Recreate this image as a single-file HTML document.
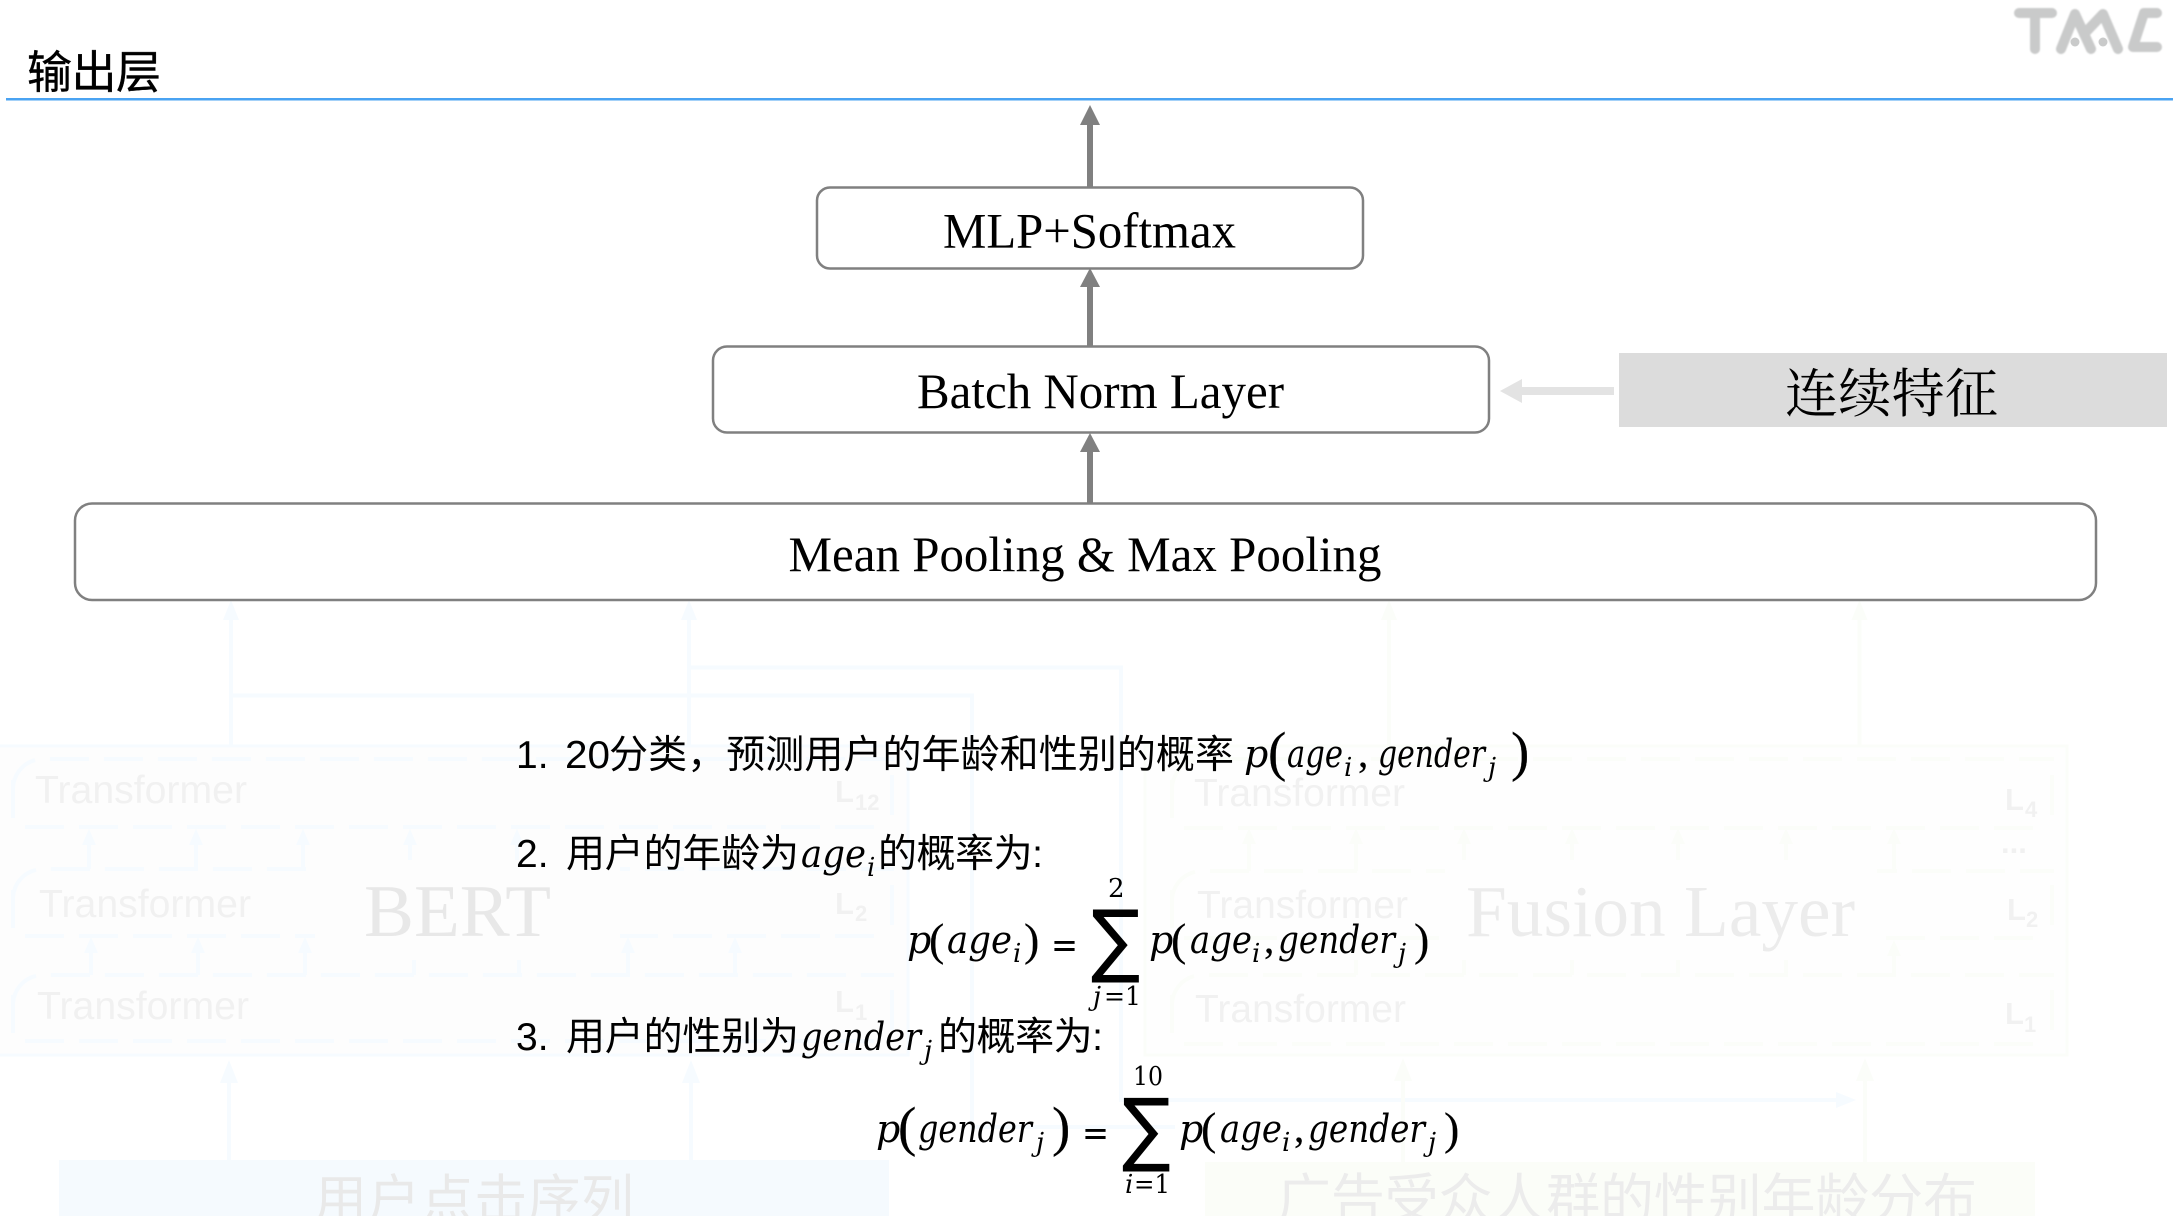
<!DOCTYPE html>
<html lang="zh"><head><meta charset="utf-8"><title>输出层</title>
<style>
html,body{margin:0;padding:0;background:#fff}
svg{display:block}
.s{font-family:"Liberation Serif",serif}
.a{font-family:"Liberation Sans",sans-serif}
.c{font-family:"Liberation Sans","Noto Sans CJK SC",sans-serif}
.m{font-family:"DejaVu Serif",serif;font-style:italic;font-size:38px;fill:#000}
.r{font-family:"Liberation Serif",serif;font-size:41px;fill:#000;stroke:#000;stroke-width:.2}
.e{font-family:"DejaVu Sans",sans-serif;font-size:36px;fill:#000}
.u{font-family:"DejaVu Serif",serif;font-style:italic;font-size:26px;fill:#000}
.n{font-family:"DejaVu Serif",serif;font-size:26px;fill:#000}
.t{font-family:"Liberation Sans",sans-serif;font-size:39px;fill:#f1f1f1}
.l{font-family:"Liberation Sans",sans-serif;font-size:31px;font-weight:bold;fill:#f1f1f1}
.ls{font-family:"Liberation Sans",sans-serif;font-size:22px;font-weight:bold;fill:#f1f1f1}
.d{fill:none;stroke-width:4;stroke-dasharray:39 15}
.b .d,.b .sl{stroke:#f6fbff}
.g .d,.g .sl{stroke:#fbfdf9}
.sl{fill:none;stroke-width:4}
.b .h{fill:#f6fbff}
.g .h{fill:#fbfdf9}
.x{font-family:"Liberation Sans","Noto Sans CJK SC",sans-serif;font-size:39px;fill:#000}
.big{font-family:"Liberation Serif",serif;font-size:50px;fill:#000}
</style></head><body>
<svg xmlns="http://www.w3.org/2000/svg" width="2182" height="1216" viewBox="0 0 2182 1216">
<rect width="2182" height="1216" fill="#fff"/>

<!-- faded BERT side -->
<g class="b">
<rect x="-4" y="746" width="912" height="309" fill="#fdfdfd" stroke="#f6fbff" stroke-width="3"/>
<path class="sl" d="M231 612V745M689 612V745M231 695.500H972V1127H1175M689 667.500H1121V1100H1840"/>
<path class="h" d="M231 600l8 20h-16zM689 600l8 20h-16zM1856 1100l-20 8v-16z"/>
<path class="sl" d="M229 1075V1160M691 1075V1160"/>
<path class="h" d="M229 1060l9 23h-18zM691 1060l9 23h-18z"/>

<path class="d" d="M13 789A30 30 0 0 1 43 759H894"/>
<path class="d" d="M25 827H880"/>
<path class="d" d="M13 898A30 30 0 0 1 43 869H894"/>
<path class="d" d="M25 936H880"/>
<path class="d" d="M13 1004A30 30 0 0 1 43 975H894"/>
<path class="d" d="M25 1041H880"/>
<path class="sl" d="M13 780V818M13 890V928M13 995V1033M892 775V815M892 885V925M892 990V1030"/>
<rect x="315" y="860" width="305" height="97" fill="#fdfdfd"/>
<path class="sl" d="M89 845V869M196 845V869M303 845V869M410 845V860M517 845V860M91 952V975M198 952V975M305 952V975M414 960V975M519 960V975M628 952V975M735 952V975"/>
<path class="h" d="M89 829l7 16h-14zM196 829l7 16h-14zM303 829l7 16h-14zM410 829l7 16h-14zM517 829l7 16h-14zM91 937l7 16h-14zM198 937l7 16h-14zM305 937l7 16h-14zM628 937l7 16h-14zM735 937l7 16h-14z"/>
</g>
<text class="t" x="35" y="803" textLength="212" lengthAdjust="spacingAndGlyphs">Transformer</text>
<text class="t" x="39" y="917" textLength="212" lengthAdjust="spacingAndGlyphs">Transformer</text>
<text class="t" x="37" y="1019" textLength="212" lengthAdjust="spacingAndGlyphs">Transformer</text>
<text class="s" x="364" y="936" font-size="74" fill="#e8e8e8" textLength="187" lengthAdjust="spacingAndGlyphs">BERT</text>
<text class="l" x="835" y="802">L</text><text class="ls" x="855" y="810">12</text>
<text class="l" x="835" y="914">L</text><text class="ls" x="855" y="921">2</text>
<text class="l" x="835" y="1012">L</text><text class="ls" x="855" y="1020">1</text>
<rect x="59" y="1160" width="830" height="56" fill="#f5fafe"/>
<text class="c" x="314" y="1218" font-size="53" fill="#e9e9e9" textLength="320">用户点击序列</text>

<!-- faded Fusion side -->
<g class="g">
<rect x="1145" y="746" width="922" height="309" fill="#fefefe" stroke="#fbfdf9" stroke-width="3"/>
<path class="sl" d="M1389 612V745M1859.500 612V745M1403 1075V1162M1865 1075V1162"/>
<path class="h" d="M1389 600l8 20h-16zM1859.500 600l8 20h-16zM1403 1058l9 23h-18zM1865 1058l9 23h-18z"/>
<path class="d" d="M1172 789A30 30 0 0 1 1202 759H2054"/>
<path class="d" d="M1184 828H2040"/>
<path class="d" d="M1172 900A30 30 0 0 1 1202 871H2054"/>
<path class="d" d="M1184 938H2040"/>
<path class="d" d="M1172 1005A30 30 0 0 1 1202 975H2054"/>
<path class="d" d="M1184 1044H2040"/>
<path class="sl" d="M1172 780V818M1172 890V928M1172 995V1033M2052 775V815M2052 885V925M2052 990V1030"/>
<rect x="1445" y="860" width="432" height="100" fill="#fefefe"/>
<path class="sl" d="M1249 842V871M1356 842V871M1464 842V860M1572 842V860M1678 842V860M1786 842V860M1894 842V871M1356 960V975M1464 960V975M1572 960V975M1678 960V975M1786 960V975M1894 955V975"/>
<path class="h" d="M1249 828l7 16h-14zM1356 828l7 16h-14zM1464 828l7 16h-14zM1572 828l7 16h-14zM1678 828l7 16h-14zM1786 828l7 16h-14zM1894 828l7 16h-14zM1894 940l7 16h-14z"/>
</g>
<text class="t" x="1194" y="806" textLength="211" lengthAdjust="spacingAndGlyphs">Transformer</text>
<text class="t" x="1197" y="918" textLength="211" lengthAdjust="spacingAndGlyphs">Transformer</text>
<text class="t" x="1195" y="1022" textLength="211" lengthAdjust="spacingAndGlyphs">Transformer</text>
<text class="s" x="1466" y="936" font-size="73" fill="#ececec" textLength="389" lengthAdjust="spacingAndGlyphs">Fusion Layer</text>
<text class="l" x="2005" y="810">L</text><text class="ls" x="2025" y="817">4</text>
<text class="l" x="2007" y="920">L</text><text class="ls" x="2026" y="927">2</text>
<text class="l" x="2005" y="1024">L</text><text class="ls" x="2024" y="1032">1</text>
<text class="l" x="2001" y="853">...</text>
<rect x="1205" y="1162" width="830" height="54" fill="#fbfdf8"/>
<text class="c" x="1277" y="1218" font-size="54" fill="#ececec" textLength="700">广告受众人群的性别年龄分布</text>

<!-- header -->
<text class="c" x="27" y="88" font-size="45" fill="#000" stroke="#000" stroke-width=".4" textLength="134">输出层</text>
<rect x="6" y="98" width="2167" height="2.500" fill="#4aa3f2"/>
<g fill="none" stroke="#c9caca" stroke-width="10" stroke-linecap="round" stroke-linejoin="round" style="filter:blur(.7px)">
<path d="M2019 13H2052M2035 13V49"/>
<path d="M2061 49L2075 14L2091 49"/>
<path d="M2084 34L2103 14L2118 49"/>
<path d="M2157 13H2144L2133 47H2157"/>
</g>
<circle cx="2075" cy="42" r="4.500" fill="#c9caca"/><circle cx="2103" cy="42" r="4.500" fill="#c9caca"/>

<!-- arrows -->
<g fill="#808080">
<rect x="1087" y="118" width="6" height="70"/><path d="M1090 105l10 20h-20z"/>
<rect x="1087" y="283" width="6" height="64"/><path d="M1090 268l10 19h-20z"/>
<rect x="1087" y="448" width="6" height="56"/><path d="M1090 433l10 19h-20z"/>
</g>
<rect x="1520" y="387" width="94" height="8" fill="#e3e3e3"/>
<path d="M1500 391l22 -12v24z" fill="#e3e3e3"/>

<!-- boxes -->
<g fill="#fff" stroke="#808080" stroke-width="2.500">
<rect x="817" y="187.500" width="546" height="81" rx="13"/>
<rect x="713" y="346.500" width="776" height="86" rx="14"/>
<rect x="75" y="503.500" width="2021" height="96.500" rx="17"/>
</g>
<text class="big" x="943" y="247.500" textLength="293" lengthAdjust="spacingAndGlyphs">MLP+Softmax</text>
<text class="big" x="917" y="408" textLength="367" lengthAdjust="spacingAndGlyphs">Batch Norm Layer</text>
<text class="big" x="788.500" y="571" textLength="593" lengthAdjust="spacingAndGlyphs">Mean Pooling &amp; Max Pooling</text>
<rect x="1619" y="353" width="548" height="74" fill="#dcdcdc"/>
<text x="1785" y="412" font-family="'Liberation Serif','Noto Serif CJK SC',serif" font-size="53" fill="#000" textLength="213">连续特征</text>

<!-- line 1 -->
<text class="x" x="516" y="768">1.</text>
<text class="x" x="565" y="768" textLength="45" lengthAdjust="spacingAndGlyphs">20</text>
<text class="x" x="609" y="768" textLength="625">分类，预测用户的年龄和性别的概率</text>
<text class="m" x="1244" y="767">p</text>
<text class="r" x="1268" y="770" style="font-size:55px">(</text>
<text class="m" x="1287" y="767" textLength="56" lengthAdjust="spacingAndGlyphs">age</text>
<text class="u" x="1344" y="776">i</text>
<text class="r" x="1358" y="767">,</text>
<text class="m" x="1378" y="767" textLength="107" lengthAdjust="spacingAndGlyphs">gender</text>
<text class="u" x="1488" y="776">j</text>
<text class="r" x="1511" y="770" style="font-size:55px">)</text>

<!-- line 2 -->
<text class="x" x="516" y="867">2.</text>
<text class="x" x="566" y="867" textLength="233">用户的年龄为</text>
<text class="m" x="801" y="867" textLength="65" lengthAdjust="spacingAndGlyphs">age</text>
<text class="u" x="867" y="876">i</text>
<text class="x" x="878" y="867" textLength="165">的概率为:</text>

<!-- formula 1 -->
<text class="m" x="907" y="953">p</text>
<text class="r" x="929" y="955" style="font-size:46px">(</text>
<text class="m" x="947" y="953" textLength="65" lengthAdjust="spacingAndGlyphs">age</text>
<text class="u" x="1013" y="962">i</text>
<text class="r" x="1024" y="955" style="font-size:46px">)</text>
<text class="e" x="1051" y="957" textLength="27" lengthAdjust="spacingAndGlyphs">=</text>
<text class="n" x="1108" y="897">2</text>
<text transform="translate(1091 967) scale(1.83 2)" font-family="'DejaVu Sans',sans-serif" font-size="40" fill="#000">∑</text>
<text class="u" x="1093" y="1005">j</text><text class="n" x="1104" y="1005" textLength="37" lengthAdjust="spacingAndGlyphs">=1</text>
<text class="m" x="1149" y="953">p</text>
<text class="r" x="1171" y="955" style="font-size:46px">(</text>
<text class="m" x="1190" y="953" textLength="62" lengthAdjust="spacingAndGlyphs">age</text>
<text class="u" x="1252" y="962">i</text>
<text class="r" x="1264" y="953">,</text>
<text class="m" x="1278" y="953" textLength="117" lengthAdjust="spacingAndGlyphs">gender</text>
<text class="u" x="1398" y="962">j</text>
<text class="r" x="1414" y="955" style="font-size:46px">)</text>

<!-- line 3 -->
<text class="x" x="516" y="1050">3.</text>
<text class="x" x="566" y="1050" textLength="233">用户的性别为</text>
<text class="m" x="801" y="1050" textLength="120" lengthAdjust="spacingAndGlyphs">gender</text>
<text class="u" x="924" y="1059">j</text>
<text class="x" x="938" y="1050" textLength="165">的概率为:</text>

<!-- formula 2 -->
<text class="m" x="876" y="1142">p</text>
<text class="r" x="898" y="1145" style="font-size:55px">(</text>
<text class="m" x="918" y="1142" textLength="114" lengthAdjust="spacingAndGlyphs">gender</text>
<text class="u" x="1036" y="1151">j</text>
<text class="r" x="1052" y="1145" style="font-size:55px">)</text>
<text class="e" x="1082" y="1145" textLength="27" lengthAdjust="spacingAndGlyphs">=</text>
<text class="n" x="1133" y="1085" textLength="30" lengthAdjust="spacingAndGlyphs">10</text>
<text transform="translate(1122 1156) scale(1.81 2.02)" font-family="'DejaVu Sans',sans-serif" font-size="40" fill="#000">∑</text>
<text class="u" x="1125" y="1193">i</text><text class="n" x="1134" y="1193" textLength="36" lengthAdjust="spacingAndGlyphs">=1</text>
<text class="m" x="1179" y="1142">p</text>
<text class="r" x="1201" y="1144" style="font-size:46px">(</text>
<text class="m" x="1220" y="1142" textLength="62" lengthAdjust="spacingAndGlyphs">age</text>
<text class="u" x="1282" y="1151">i</text>
<text class="r" x="1294" y="1142">,</text>
<text class="m" x="1308" y="1142" textLength="117" lengthAdjust="spacingAndGlyphs">gender</text>
<text class="u" x="1428" y="1151">j</text>
<text class="r" x="1444" y="1144" style="font-size:46px">)</text>
</svg>
</body></html>
